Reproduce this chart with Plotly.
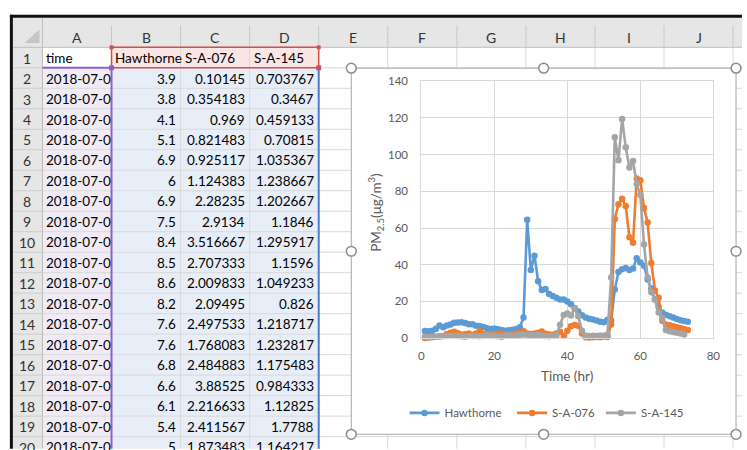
import plotly.graph_objects as go

W, H = 747, 450

# ---------------- data ----------------
hours = list(range(1, 74))
hours_145 = list(range(1, 73))

hawthorne = [3.9, 3.8, 4.1, 5.1, 6.9, 6, 6.9, 7.5, 8.4, 8.5, 8.6, 8.2, 7.6, 7.6, 6.8, 6.6, 6.1, 5.4, 5,
             5.2, 4.8, 4.5, 4.0, 4.3, 4.6, 5.0, 6.0, 11.3, 64.6, 37.2, 44.9, 31.0, 26.2, 26.8, 24.0,
             23.0, 22.0, 21.0, 21.0, 20.0, 18.5, 16.5, 14.5, 12.5, 11.2, 10.6, 10.2, 9.6, 9.0, 8.6,
             10.0, 9.6, 26.5, 36.0, 37.5, 38.2, 37.2, 38.0, 43.6, 41.2, 39.5, 32.0, 27.0, 21.0, 17.0,
             14.0, 12.8, 12.0, 11.2, 10.4, 9.8, 9.4, 9.0]

sa076 = [0.10145, 0.354183, 0.969, 0.821483, 0.925117, 1.124383, 2.28235, 2.9134, 3.516667,
         2.707333, 2.009833, 2.09495, 2.497533, 1.768083, 2.484883, 3.88525, 2.216633, 2.411567,
         1.873483, 1.9, 2.2, 2.6, 2.0, 1.8, 2.2, 2.5, 3.2, 3.8, 2.6, 2.3, 2.5, 3.0, 3.6, 2.4, 2.0,
         1.8, 2.5, 3.5, 1.3, 4.0, 6.5, 7.2, 6.8, 2.5, 0.5, 0.4, 0.5, 0.6, 0.5, 0.8, 0.6, 7.5, 65,
         73, 76, 72, 55, 52, 87, 86, 71, 63, 41, 26, 22, 9.5, 7.5, 7, 6.5, 6, 5.5, 5, 4.5]

sa145 = [0.703767, 0.3467, 0.459133, 0.70815, 1.035367, 1.238667, 1.202667, 1.1846, 1.295917,
         1.1596, 1.049233, 0.826, 1.218717, 1.232817, 1.175483, 0.984333, 1.12825, 1.7788,
         1.164217, 1.2, 1.1, 0.8, 1.4, 1.6, 1.3, 1.5, 1.9, 2.0, 1.8, 1.6, 1.7, 1.9, 1.5, 1.2, 1.0,
         1.3, 1.5, 7.3, 12.6, 13.4, 12.4, 16.2, 12.0, 4.0, 1.5, 1.2, 1.3, 1.2, 1.4, 1.3, 2.0, 33,
         109.5, 97, 119.5, 104, 93, 96.5, 84, 78, 51, 33, 25, 21, 14, 11, 4.5, 3.8, 3.3, 3.0, 2.5, 2.0]

series_names = ["Hawthorne", "S-A-076", "S-A-145"]
series_colors = ["#5B9BD5", "#ED7D31", "#A5A5A5"]

col_letters = ["A", "B", "C", "D", "E", "F", "G", "H", "I", "J", "K"]
header_texts = ["time", "Hawthorne", "S-A-076", "S-A-145"]
time_text = "2018-07-0"
n_data_rows = 19  # rows 2..20 of the sheet

x_ticks = [0, 20, 40, 60, 80]
y_ticks = [0, 20, 40, 60, 80, 100, 120, 140]


def gen(v):
    s = f"{v:.7g}"
    if "." in s and len(s) > 8:
        s = f"{v:.{8 - len(s.split('.')[0]) - 1}f}".rstrip("0").rstrip(".")
    return s


# ---------------- geometry helpers ----------------
def px(x):
    return x / W


def py(y):
    return 1 - y / H


X0, CW = 40.0, 70.0
Y0, RH = 41.5, 21.1
HDR_TOP = 11.0

shapes = []
annotations = []


def rect(x0, y0, x1, y1, fill=None, line=None, lw=0, layer="below"):
    shapes.append(dict(type="rect", xref="paper", yref="paper",
                       x0=px(x0), x1=px(x1), y0=py(y1), y1=py(y0),
                       fillcolor=fill if fill else "rgba(0,0,0,0)",
                       line=dict(color=line if line else "rgba(0,0,0,0)", width=lw),
                       layer=layer))


def hline(y, x0, x1, color, lw=1, layer="below"):
    shapes.append(dict(type="line", xref="paper", yref="paper",
                       x0=px(x0), x1=px(x1), y0=py(y), y1=py(y),
                       line=dict(color=color, width=lw), layer=layer))


def vline(x, y0, y1, color, lw=1, layer="below"):
    shapes.append(dict(type="line", xref="paper", yref="paper",
                       x0=px(x), x1=px(x), y0=py(y0), y1=py(y1),
                       line=dict(color=color, width=lw), layer=layer))


def text(s, x, y, anchor="left", size=13.5, color="#000000", family="Lato"):
    annotations.append(dict(text=s, xref="paper", yref="paper", x=px(x), y=py(y),
                            xanchor=anchor, yanchor="middle", showarrow=False,
                            font=dict(family=family, size=size, color=color),
                            borderpad=0))


# ---------------- spreadsheet ----------------
rect(10, HDR_TOP, W + 2, Y0, fill="#E6E6E6")
rect(10, Y0, X0, H + 5, fill="#E6E6E6")

rect(X0, Y0 + RH, X0 + CW, H + 5, fill="#F1EBF6")
rect(X0 + CW, Y0 + RH, X0 + 4 * CW, H + 5, fill="#E8EEF8")
rect(X0 + CW, Y0, X0 + 4 * CW, Y0 + RH, fill="#FBE5E5")

for k in range(1, 21):
    yy = Y0 + RH * k
    hline(yy, X0, W + 2, "#D9D9D9")
    hline(yy, 10, X0, "#CDCDCD")
for j in range(1, 11):
    xx = X0 + CW * j
    vline(xx, Y0, H + 5, "#D9D9D9")
    vline(xx, 19, Y0, "#C8C8C8")

hline(Y0, 10, W + 2, "#BDBDBD")
vline(X0, HDR_TOP, H + 5, "#BDBDBD")

shapes.append(dict(type="path", xref="paper", yref="paper",
                   path=f"M {px(22)},{py(37)} L {px(37)},{py(37)} L {px(37)},{py(23)} Z",
                   fillcolor="#C6C6C6", line=dict(width=0), layer="below"))

hline(9.5, 7, W + 2, "#111111", lw=3)
vline(8.5, 8, H + 5, "#111111", lw=3)

for j, c in enumerate(col_letters):
    text(c, X0 + CW * j + CW / 2, 31, anchor="center", size=14, color="#333333")

for r in range(1, 21):
    text(str(r), 24.5, Y0 + RH * (r - 1) + RH / 2 + 0.5, anchor="center", size=14, color="#333333")

for j, s in enumerate(header_texts):
    text(s, X0 + CW * j + 3, Y0 + RH / 2 + 0.5)

for i in range(n_data_rows):
    yc = Y0 + RH * (i + 1) + RH / 2 + 0.5
    text(time_text, X0 + 3, yc)
    text(gen(hawthorne[i]), X0 + 2 * CW - 4, yc, anchor="right")
    text(gen(sa076[i]), X0 + 3 * CW - 4, yc, anchor="right")
    text(gen(sa145[i]), X0 + 4 * CW - 4, yc, anchor="right")

RED, PURPLE, BLUE = "#D0504D", "#8B62C9", "#4F7BD0"
rect(X0 + CW, Y0, X0 + 4 * CW, Y0 + RH, line=RED, lw=1.5, layer="above")
hline(Y0 + RH, X0, X0 + CW, PURPLE, lw=2, layer="above")
vline(X0 + CW, Y0 + RH, H + 5, PURPLE, lw=2, layer="above")
vline(X0 + 4 * CW, Y0 + RH, H + 5, BLUE, lw=2, layer="above")
rect(X0 + CW - 2, Y0 - 2, X0 + CW + 2, Y0 + 2, fill=RED, layer="above")
rect(X0 + 4 * CW - 2, Y0 - 2, X0 + 4 * CW + 2, Y0 + 2, fill=RED, layer="above")
rect(X0 + 4 * CW - 2.5, Y0 + RH - 2.5, X0 + 4 * CW + 2.5, Y0 + RH + 2.5, fill=RED, layer="above")
rect(X0 + CW - 2.5, Y0 + RH - 2.5, X0 + CW + 2.5, Y0 + RH + 2.5, fill=PURPLE, layer="above")

# ---------------- chart object ----------------
CL, CR, CT, CB = 353, 743, 63, 440
rect(CL, CT, CR, CB, fill="#FFFFFF", line="#A6A6A6", lw=1)

for (hx, hy) in [(CL, CT), ((CL + CR) / 2, CT), (CR, CT), (CL, (CT + CB) / 2), (CR, (CT + CB) / 2),
                 (CL, CB), ((CL + CR) / 2, CB), (CR, CB)]:
    shapes.append(dict(type="circle", xref="paper", yref="paper",
                       x0=px(hx - 5), x1=px(hx + 5), y0=py(hy + 5), y1=py(hy - 5),
                       fillcolor="#FFFFFF", line=dict(color="#8C8C8C", width=1.5), layer="above"))

annotations.append(dict(text="PM<sub>2.5</sub>(μg/m<sup>3</sup>)", xref="paper", yref="paper",
                        x=px(378), y=py(212), xanchor="center", yanchor="middle", textangle=-90,
                        showarrow=False, font=dict(family="Lato", size=13.5, color="#595959")))
annotations.append(dict(text="Time (hr)", xref="paper", yref="paper",
                        x=px(572), y=py(380), xanchor="center", yanchor="middle",
                        showarrow=False, font=dict(family="Lato", size=13.5, color="#595959")))

fig = go.Figure()
xs = [hours, hours, hours_145]
ys = [hawthorne, sa076, sa145]
legend_ids = ["legend", "legend2", "legend3"]
for name, color, xv, yv, lg in zip(series_names, series_colors, xs, ys, legend_ids):
    fig.add_trace(go.Scatter(x=xv, y=yv, mode="lines+markers", name=name,
                             line=dict(color=color, width=2.6),
                             marker=dict(size=6.5, color=color),
                             cliponaxis=False, legend=lg))

PL, PR, PT, PB = 424, 720, 76.5, 341
tickfont = dict(family="Lato", size=11.5, color="#595959")
legfont = dict(family="Lato", size=11.5, color="#595959")
legend_x = [407, 516, 606]


def leg(xp):
    return dict(orientation="h", x=px(xp), xanchor="left", y=py(418), yanchor="middle",
                font=legfont, bgcolor="rgba(0,0,0,0)", itemwidth=30)


fig.update_layout(
    width=W, height=H,
    margin=dict(l=0, r=0, t=0, b=0),
    paper_bgcolor="#FFFFFF",
    plot_bgcolor="rgba(0,0,0,0)",
    shapes=shapes,
    annotations=annotations,
    showlegend=True,
    legend=leg(legend_x[0]),
    legend2=leg(legend_x[1]),
    legend3=leg(legend_x[2]),
    xaxis=dict(domain=[px(PL), px(PR)], range=[0, 80], tickvals=x_ticks,
               showgrid=True, gridcolor="#D9D9D9", gridwidth=1, zeroline=False,
               showline=True, linecolor="#D9D9D9", linewidth=1, mirror=True,
               ticks="", tickfont=tickfont, ticklabelstandoff=7, fixedrange=True),
    yaxis=dict(domain=[py(PB), py(PT)], range=[0, 140], tickvals=y_ticks,
               showgrid=True, gridcolor="#D9D9D9", gridwidth=1, zeroline=False,
               showline=True, linecolor="#D9D9D9", linewidth=1, mirror=True,
               ticks="", tickfont=tickfont, ticklabelstandoff=10, fixedrange=True),
)

fig.write_html("out.html")
